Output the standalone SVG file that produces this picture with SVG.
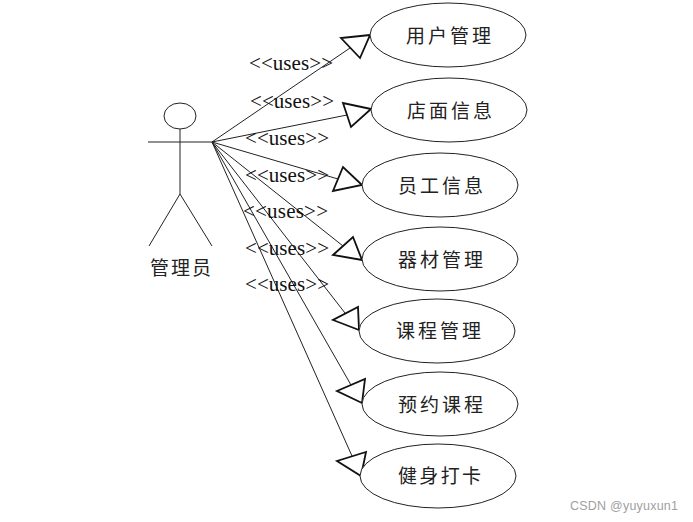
<svg xmlns="http://www.w3.org/2000/svg" width="693" height="522" viewBox="0 0 693 522">
<style>
.bg{fill:#fff}
.ln{fill:none;stroke:#222;stroke-width:1}
.uc{fill:#fff;stroke:#222;stroke-width:1}
.tri{fill:#fff;stroke:#111;stroke-width:1.8;stroke-linejoin:miter}
.cn{font-family:"Noto Sans CJK SC","Noto Sans",sans-serif;font-size:19px;font-weight:400;fill:#222}
.u{font-family:"Liberation Serif",serif;font-size:21px;fill:#111}
.wm{font-family:"Liberation Sans",sans-serif;font-size:12.5px;fill:#a0a0a0}
</style>
<rect class="bg" width="693" height="522"/>
<g id="connectors">
<path class="ln" d="M212 142L350 48"/>
<path class="ln" d="M212 142L347 115"/>
<path class="ln" d="M212 142L338 179"/>
<path class="ln" d="M212 142L343 246"/>
<path class="ln" d="M212 142L345 313"/>
<path class="ln" d="M212 142L351 385"/>
<path class="ln" d="M212 142L352 456"/>
<polygon class="tri" points="370,35 341,38 360,58"/>
<polygon class="tri" points="371,109 343,103 351,127"/>
<polygon class="tri" points="362,185 343,167 333,191"/>
<polygon class="tri" points="362,260 353,237 333,255"/>
<polygon class="tri" points="359,330 358,307 333,320"/>
<polygon class="tri" points="362,403 365,379 337,391"/>
<polygon class="tri" points="361,476 366,452 337,461"/>
<text class="u" x="249" y="70" textLength="84">&lt;&lt;uses&gt;&gt;</text>
<text class="u" x="250" y="108" textLength="84">&lt;&lt;uses&gt;&gt;</text>
<text class="u" x="245" y="145" textLength="84">&lt;&lt;uses&gt;&gt;</text>
<text class="u" x="245" y="182" textLength="84">&lt;&lt;uses&gt;&gt;</text>
<text class="u" x="243" y="218" textLength="85">&lt;&lt;uses&gt;&gt;</text>
<text class="u" x="245" y="255" textLength="84">&lt;&lt;uses&gt;&gt;</text>
<text class="u" x="245" y="291" textLength="84">&lt;&lt;uses&gt;&gt;</text>
</g>
<g id="actor">
<ellipse class="ln" cx="180" cy="116" rx="16" ry="13"/>
<path class="ln" d="M180 129V194M148 142H212M180 194L149 246M180 194L212 246"/>
<text class="cn" x="150" y="275" textLength="61">管理员</text>
</g>
<g id="uc1"><ellipse class="uc" cx="448" cy="35" rx="78" ry="32"/><text class="cn" x="406" y="43" textLength="85">用户管理</text></g>
<g id="uc2"><ellipse class="uc" cx="449" cy="110" rx="78" ry="32"/><text class="cn" x="407" y="118" textLength="85">店面信息</text></g>
<g id="uc3"><ellipse class="uc" cx="440" cy="185" rx="78" ry="32"/><text class="cn" x="398" y="193" textLength="85">员工信息</text></g>
<g id="uc4"><ellipse class="uc" cx="440" cy="259" rx="78" ry="32"/><text class="cn" x="398" y="267" textLength="85">器材管理</text></g>
<g id="uc5"><ellipse class="uc" cx="437" cy="331" rx="78" ry="32"/><text class="cn" x="396" y="338" textLength="85">课程管理</text></g>
<g id="uc6"><ellipse class="uc" cx="440" cy="404" rx="78" ry="32"/><text class="cn" x="398" y="412" textLength="85">预约课程</text></g>
<g id="uc7"><ellipse class="uc" cx="438" cy="476" rx="78" ry="32"/><text class="cn" x="398" y="483" textLength="83">健身打卡</text></g>
<text class="wm" x="570" y="510" textLength="108">CSDN @yuyuxun1</text>
</svg>
